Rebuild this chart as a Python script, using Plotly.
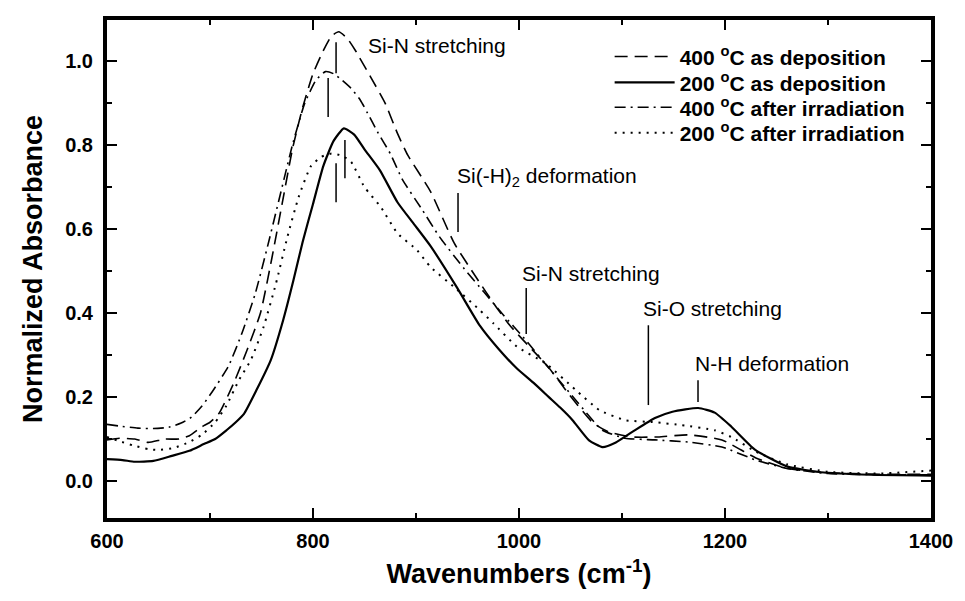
import plotly.graph_objects as go

# ---------------- data ----------------
wn_400_dep = [600, 612, 627, 640, 656, 670, 680, 692, 700, 709, 723, 736, 749, 760, 770, 780,
              790, 800, 810, 818, 825, 833, 841, 856, 870, 882, 892, 914, 937, 959, 978, 991,
              1010, 1029, 1049, 1072, 1087, 1110, 1135, 1164, 1197, 1230, 1260, 1300, 1350, 1400]
abs_400_dep = [0.098, 0.102, 0.100, 0.092, 0.100, 0.100, 0.108, 0.129, 0.140, 0.162, 0.233, 0.312,
               0.400, 0.530, 0.660, 0.790, 0.890, 0.970, 1.025, 1.060, 1.070, 1.055, 1.026, 0.962,
               0.900, 0.828, 0.776, 0.690, 0.567, 0.483, 0.414, 0.371, 0.320, 0.270, 0.205, 0.138,
               0.117, 0.105, 0.105, 0.110, 0.098, 0.055, 0.030, 0.020, 0.016, 0.016]

wn_200_dep = [600, 615, 627, 645, 663, 680, 694, 705, 716, 725, 733, 745, 759, 771, 781, 790,
              800, 810, 820, 830, 840, 850, 865, 882, 898, 914, 940, 962, 980, 998, 1015, 1029, 1040,
              1052, 1068, 1081, 1094, 1110, 1132, 1149, 1174, 1190, 1206, 1229, 1260, 1293, 1341, 1400]
abs_200_dep = [0.052, 0.050, 0.046, 0.048, 0.060, 0.072, 0.088, 0.100, 0.121, 0.140, 0.160, 0.216,
               0.288, 0.383, 0.478, 0.570, 0.660, 0.750, 0.810, 0.840, 0.825, 0.790, 0.740, 0.664,
               0.612, 0.560, 0.460, 0.370, 0.315, 0.268, 0.232, 0.200, 0.175, 0.145, 0.097, 0.081,
               0.092, 0.117, 0.150, 0.165, 0.174, 0.163, 0.130, 0.075, 0.035, 0.021, 0.015, 0.013]

wn_400_irr = [600, 615, 630, 645, 660, 672, 682, 692, 702, 718, 731, 744, 756, 768, 780, 792,
              803, 812, 820, 828, 837, 846, 853, 863, 875, 887, 905, 923, 947, 966, 985, 1004,
              1033, 1055, 1081, 1103, 1132, 1164, 1197, 1230, 1260, 1300, 1350, 1400]
abs_400_irr = [0.135, 0.130, 0.126, 0.125, 0.128, 0.138, 0.152, 0.178, 0.212, 0.274, 0.352, 0.447,
               0.560, 0.680, 0.800, 0.900, 0.955, 0.975, 0.970, 0.955, 0.935, 0.907, 0.876, 0.830,
               0.780, 0.717, 0.650, 0.581, 0.505, 0.450, 0.395, 0.343, 0.257, 0.193, 0.121, 0.102,
               0.098, 0.093, 0.081, 0.050, 0.030, 0.018, 0.015, 0.015]

wn_200_irr = [600, 612, 625, 640, 650, 665, 680, 692, 705, 716, 728, 740, 752, 764, 775, 786,
              798, 808, 818, 828, 837, 850, 866, 882, 901, 914, 937, 962, 975, 998, 1026, 1055,
              1078, 1103, 1132, 1158, 1190, 1206, 1230, 1260, 1300, 1350, 1400]
abs_200_irr = [0.105, 0.095, 0.085, 0.076, 0.074, 0.079, 0.093, 0.110, 0.140, 0.180, 0.240, 0.290,
               0.367, 0.470, 0.580, 0.676, 0.750, 0.772, 0.780, 0.775, 0.760, 0.700, 0.652, 0.590,
               0.550, 0.510, 0.462, 0.407, 0.376, 0.320, 0.280, 0.217, 0.169, 0.145, 0.140, 0.133,
               0.121, 0.105, 0.070, 0.040, 0.022, 0.018, 0.025]

series_names = ["400 <sup>o</sup>C as deposition", "200 <sup>o</sup>C as deposition",
                "400 <sup>o</sup>C after irradiation", "200 <sup>o</sup>C after irradiation"]

band_labels = ["Si-N stretching", "Si(-H)<sub>2</sub> deformation", "Si-N stretching",
               "Si-O stretching", "N-H deformation"]

x_ticks = [600, 800, 1000, 1200, 1400]
y_ticks = [0.0, 0.2, 0.4, 0.6, 0.8, 1.0]

# ---------------- figure ----------------
FONT = "Liberation Sans, Arial, sans-serif"
fig = go.Figure()

styles = [
    dict(dash="13px,7px", width=1.6),
    dict(dash="solid", width=2.2),
    dict(dash="11px,5px,2px,5px", width=1.6),
    dict(dash="2px,6px", width=2.0),
]
legend_ids = ["legend", "legend2", "legend3", "legend4"]
xs = [wn_400_dep, wn_200_dep, wn_400_irr, wn_200_irr]
ys = [abs_400_dep, abs_200_dep, abs_400_irr, abs_200_irr]
for name, x, y, st, lg in zip(series_names, xs, ys, styles, legend_ids):
    fig.add_trace(go.Scatter(x=x, y=y, mode="lines", name=name, line_shape="spline",
                             legend=lg,
                             line=dict(color="black", width=st["width"], dash=st["dash"],
                                       smoothing=0.5)))

# band annotations: text anchor (wn, abs) and pointer lines
text_pos = [(851, 1.038), (938, 0.724), (1000.5, 0.495), (1118, 0.412), (1169, 0.281)]
for lab, (tx, ty) in zip(band_labels, text_pos):
    fig.add_annotation(x=tx, y=ty, text=lab, showarrow=False, xanchor="left", yanchor="middle",
                       font=dict(family=FONT, size=21, color="black"))

pointers = [(822.4, 1.045, 0.971), (814.7, 0.960, 0.867), (831.0, 0.812, 0.721),
            (822.4, 0.757, 0.664), (940.8, 0.686, 0.593), (1007.0, 0.460, 0.350),
            (1125.6, 0.371, 0.181), (1173.8, 0.240, 0.188)]
for px, y0, y1 in pointers:
    fig.add_shape(type="line", x0=px, x1=px, y0=y0, y1=y1, xref="x", yref="y",
                  line=dict(color="black", width=1.5))

axis_common = dict(
    showline=True, linewidth=4, linecolor="black", mirror="allticks",
    ticks="inside", ticklen=10, tickwidth=2, tickcolor="black",
    showgrid=False, zeroline=False,
    tickfont=dict(family=FONT, size=20, color="black", weight="bold"),
)

fig.update_xaxes(range=[600, 1400], tickvals=x_ticks, ticktext=[str(v) for v in x_ticks],
                 minor=dict(ticks="inside", ticklen=5, tickwidth=2, dtick=100, tick0=600,
                            tickcolor="black", showgrid=False),
                 title=dict(text="Wavenumbers (cm<sup>-1</sup>)", standoff=14,
                            font=dict(family=FONT, size=27, color="black", weight="bold")),
                 ticklabelstandoff=2, **axis_common)
fig.update_yaxes(range=[-0.088, 1.098], tickvals=y_ticks, ticktext=[f"{v:.1f}" for v in y_ticks],
                 minor=dict(ticks="inside", ticklen=5, tickwidth=2, dtick=0.1, tick0=0,
                            tickcolor="black", showgrid=False),
                 title=dict(text="Normalized Absorbance", standoff=16,
                            font=dict(family=FONT, size=27, color="black", weight="bold")),
                 ticklabelstandoff=6, **axis_common)

legend_common = dict(x=0.610, xanchor="left", yanchor="middle", bgcolor="rgba(0,0,0,0)",
                     itemwidth=60,
                     font=dict(family=FONT, size=21, color="black", weight="bold"))
legend_rows = [0.926, 0.874, 0.824, 0.773]

fig.update_layout(
    width=965, height=601,
    margin=dict(l=107, r=27, t=20, b=83, pad=0),
    plot_bgcolor="white", paper_bgcolor="white",
    showlegend=True,
    legend=dict(y=legend_rows[0], **legend_common),
    legend2=dict(y=legend_rows[1], **legend_common),
    legend3=dict(y=legend_rows[2], **legend_common),
    legend4=dict(y=legend_rows[3], **legend_common),
)

fig.write_html("out.html")
